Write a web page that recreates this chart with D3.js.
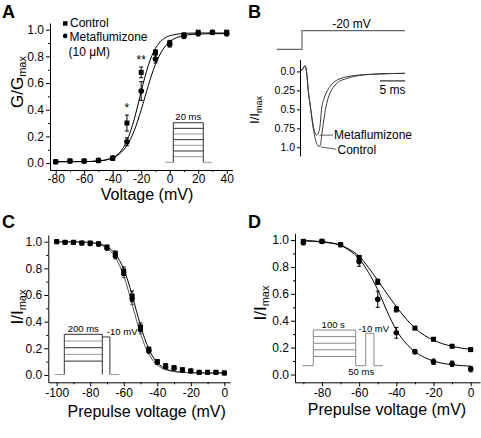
<!DOCTYPE html>
<html><head><meta charset="utf-8">
<script src="https://cdn.jsdelivr.net/npm/d3@7/dist/d3.min.js"></script>
<style>
html,body{margin:0;padding:0;background:#fff;}
svg{display:block;}
</style></head>
<body>
<svg id="fig" width="481" height="438" xmlns="http://www.w3.org/2000/svg"></svg>
<script>
// ================= DATA =================
// Panel A : G/Gmax vs voltage
const aVoltage   = [-80,-70,-60,-50,-40,-30,-20,-10,0,10,20,30,40];
const aControl   = [0.01,0.015,0.015,0.02,0.035,0.30,0.68,0.83,0.90,0.96,0.98,0.98,0.98];
const aControlErr= [0.005,0.005,0.005,0.005,0.01,0.06,0.04,0.02,0.02,0.015,0.015,0.012,0.015];
const aMetaf     = [0.01,0.015,0.015,0.02,0.04,0.16,0.54,0.78,0.89,0.95,0.97,0.98,0.97];
const aMetafErr  = [0.005,0.005,0.005,0.005,0.01,0.03,0.07,0.03,0.02,0.015,0.015,0.012,0.015];
const aFitVoltage= [-80,-60,-50,-45,-40,-37.5,-35,-32.5,-30,-27.5,-25,-22.5,-20,-17.5,-15,-12.5,-10,-7.5,-5,-2.5,0,5,10,15,20,30,40];
const aFitControl= [0.01,0.011,0.015,0.022,0.040,0.056,0.080,0.116,0.167,0.237,0.324,0.428,0.536,0.641,0.732,0.805,0.860,0.899,0.925,0.943,0.954,0.966,0.972,0.974,0.975,0.975,0.975];
const aFitMetaf  = [0.01,0.011,0.016,0.024,0.039,0.052,0.071,0.097,0.132,0.180,0.240,0.314,0.399,0.490,0.581,0.666,0.740,0.800,0.848,0.883,0.909,0.941,0.956,0.964,0.967,0.970,0.970];
const aXTicks    = [-80,-60,-40,-20,0,20,40];
const aXMinor    = [-70,-50,-30,-10,10,30];
const aYTicks    = [0,0.2,0.4,0.6,0.8,1.0];
const aYMinor    = [0.1,0.3,0.5,0.7,0.9];
const aSigVoltage= [-30,-20];
const aSigLabel  = ["*","**"];
const aLegend    = ["Control","Metaflumizone","(10 \u03BCM)"];

// Panel B : current traces at -20 mV (normalised, inward positive)
const bTimeControl = [-0.4,0,0.3,0.6,0.9,1.25,1.75,2.25,2.7,3.0,3.4,3.7,4.1,4.7,5.2,5.9,6.6,7.5,8.9,10.5,12.5,15,18,20.6];
const bControl     = [-0.01,-0.02,-0.05,-0.075,0,0.25,0.5,0.75,0.9,0.96,0.99,0.96,0.76,0.5,0.36,0.25,0.18,0.13,0.095,0.065,0.045,0.035,0.028,0.025];
const bTimeMetaf   = [-0.4,0,0.3,0.6,0.9,1.25,1.75,2.25,2.6,2.95,3.3,3.6,3.9,4.4,5.1,5.8,6.6,7.6,9,11,13,16,18,20.6];
const bMetaf       = [-0.01,-0.02,-0.05,-0.075,0,0.25,0.5,0.72,0.81,0.84,0.81,0.72,0.5,0.36,0.25,0.18,0.13,0.095,0.07,0.05,0.04,0.03,0.027,0.025];
const bYTicks      = [0,0.25,0.5,0.75,1.0];
const bYLabels     = ["0.0","0.25","0.5","0.75","1.0"];
const bStepLabel   = "-20 mV";
const bScaleBarMs  = 5;

// Panel C : steady-state inactivation (200 ms prepulse)
const cVoltage   = [-100,-95,-90,-85,-80,-75,-70,-65,-60,-55,-50,-45,-40,-35,-30,-25,-20,-15,-10,-5,0];
const cControl   = [1.0,0.995,0.995,0.99,0.99,0.985,0.96,0.91,0.78,0.59,0.36,0.19,0.10,0.07,0.055,0.04,0.03,0.02,0.02,0.02,0.015];
const cMetaf     = [1.0,0.995,0.995,0.99,0.985,0.98,0.95,0.89,0.76,0.57,0.34,0.18,0.095,0.06,0.05,0.035,0.03,0.02,0.02,0.02,0.015];
const cErr       = [0,0,0,0,0,0.006,0.012,0.02,0.03,0.04,0.03,0.02,0.015,0.01,0.01,0.006,0.005,0,0,0,0];
const cFitVoltage= [-100,-90,-80,-75,-70,-67.5,-65,-62.5,-60,-57.5,-55,-52.5,-50,-47.5,-45,-42.5,-40,-37.5,-35,-30,-25,-20,-10,0];
const cFitControl= [1.0,0.999,0.994,0.985,0.962,0.940,0.907,0.859,0.792,0.705,0.599,0.484,0.372,0.273,0.193,0.134,0.093,0.065,0.047,0.028,0.020,0.017,0.015,0.015];
const cFitMetaf  = [1.0,0.999,0.992,0.980,0.950,0.922,0.881,0.822,0.742,0.643,0.531,0.416,0.310,0.222,0.156,0.108,0.075,0.053,0.039,0.025,0.019,0.017,0.015,0.015];
const cXTicks    = [-100,-80,-60,-40,-20,0];
const cXMinor    = [-90,-70,-50,-30,-10];

// Panel D : slow inactivation (100 s prepulse)
const dVoltage   = [-90,-80,-70,-60,-50,-40,-30,-20,-10,0];
const dControl   = [0.99,0.99,0.965,0.87,0.69,0.485,0.345,0.262,0.21,0.185];
const dControlErr= [0.01,0.005,0.01,0.015,0.02,0.02,0.01,0.01,0.01,0.01];
const dMetaf     = [0.98,0.99,0.965,0.84,0.56,0.31,0.17,0.095,0.08,0.04];
const dMetafErr  = [0.01,0.005,0.01,0.035,0.06,0.04,0.015,0.02,0.02,0.02];
const dFitVoltage= [-90,-80,-70,-65,-60,-55,-50,-45,-40,-35,-30,-25,-20,-15,-10,-5,0];
const dFitControl= [0.995,0.985,0.962,0.928,0.88,0.795,0.70,0.60,0.505,0.418,0.345,0.292,0.255,0.228,0.21,0.196,0.187];
const dFitMetaf  = [0.995,0.988,0.96,0.92,0.86,0.76,0.63,0.47,0.33,0.235,0.17,0.128,0.10,0.083,0.073,0.066,0.062];
const dXTicks    = [-80,-60,-40,-20,0];
const dXMinor    = [-90,-70,-50,-30,-10];
const cdYTicks   = [0,0.2,0.4,0.6,0.8,1.0];
const cdYMinor   = [0.1,0.3,0.5,0.7,0.9];

// ================= DRAWING =================
const FONT = "'Liberation Sans', Arial, Helvetica, sans-serif";
const svg = d3.select("#fig").attr("font-family", FONT);
const fmtInt = d => String(d);
const fmt1 = d => d.toFixed(1);

function styleAxis(g, fs) {
  g.attr("font-family", null).attr("font-size", null);
  g.select(".domain").attr("stroke", "#000").attr("stroke-width", 1);
  g.selectAll(".tick line").attr("stroke", "#000").attr("stroke-width", 1);
  g.selectAll(".tick text").attr("fill", "#000").attr("font-size", fs).attr("font-family", FONT);
}
function xAxis(x, y0, major, minor, fs, pad) {
  if (minor) {
    const m = svg.append("g").attr("transform", `translate(0,${y0})`)
      .call(d3.axisBottom(x).tickValues(minor).tickSize(2).tickSizeOuter(0).tickFormat(""));
    m.select(".domain").remove();
    m.selectAll(".tick line").attr("stroke", "#000");
  }
  const g = svg.append("g").attr("transform", `translate(0,${y0})`)
    .call(d3.axisBottom(x).tickValues(major).tickSize(4).tickSizeOuter(0).tickPadding(pad).tickFormat(fmtInt));
  styleAxis(g, fs);
}
function yAxis(y, x0, major, minor, fs, pad, fmt) {
  if (minor) {
    const m = svg.append("g").attr("transform", `translate(${x0},0)`)
      .call(d3.axisLeft(y).tickValues(minor).tickSize(2).tickSizeOuter(0).tickFormat(""));
    m.select(".domain").remove();
    m.selectAll(".tick line").attr("stroke", "#000");
  }
  const g = svg.append("g").attr("transform", `translate(${x0},0)`)
    .call(d3.axisLeft(y).tickValues(major).tickSize(4).tickSizeOuter(0).tickPadding(pad).tickFormat(fmt));
  styleAxis(g, fs);
}
function yTitle(cx, cy, main, sub, fs, sfs) {
  const t = svg.append("text").attr("transform", `translate(${cx},${cy}) rotate(-90)`)
    .attr("text-anchor", "middle").attr("font-size", fs).attr("fill", "#000");
  t.append("tspan").text(main);
  t.append("tspan").attr("font-size", sfs).attr("dy", 3).text(sub);
}
function xTitle(cx, by, label) {
  svg.append("text").attr("x", cx).attr("y", by).attr("text-anchor", "middle")
    .attr("font-size", 16).attr("fill", "#000").text(label);
}
function panelLetter(x, y, s) {
  svg.append("text").attr("x", x).attr("y", y).attr("font-size", 18).attr("font-weight", "bold")
    .attr("fill", "#000").text(s);
}
function fitLine(x, y, xs, ys, color) {
  svg.append("path").datum(xs.map((v, i) => [v, ys[i]]))
    .attr("fill", "none").attr("stroke", color).attr("stroke-width", 1)
    .attr("d", d3.line().x(d => x(d[0])).y(d => y(d[1])).curve(d3.curveMonotoneX));
}
function errBars(x, y, xs, ys, es, color) {
  const g = svg.append("g").attr("stroke", color).attr("stroke-width", 1);
  xs.forEach((v, i) => {
    if (!es[i] || es[i] < 0.008) return;
    const cx = x(v), y1 = y(ys[i] - es[i]), y2 = y(ys[i] + es[i]);
    g.append("line").attr("x1", cx).attr("x2", cx).attr("y1", y1).attr("y2", y2);
    g.append("line").attr("x1", cx - 2).attr("x2", cx + 2).attr("y1", y1).attr("y2", y1);
    g.append("line").attr("x1", cx - 2).attr("x2", cx + 2).attr("y1", y2).attr("y2", y2);
  });
}
function squares(x, y, xs, ys, s) {
  svg.append("g").selectAll("rect").data(xs.map((v, i) => [v, ys[i]])).join("rect")
    .attr("x", d => x(d[0]) - s / 2).attr("y", d => y(d[1]) - s / 2)
    .attr("width", s).attr("height", s).attr("fill", "#000");
}
function circles(x, y, xs, ys, r) {
  svg.append("g").selectAll("circle").data(xs.map((v, i) => [v, ys[i]])).join("circle")
    .attr("cx", d => x(d[0])).attr("cy", d => y(d[1])).attr("r", r).attr("fill", "#000");
}
function smallText(x, y, s, anchor) {
  svg.append("text").attr("x", x).attr("y", y).attr("font-size", 9.5)
    .attr("text-anchor", anchor || "start").attr("fill", "#000").text(s);
}
function seg(x1, y1, x2, y2, color, w) {
  svg.append("line").attr("x1", x1).attr("y1", y1).attr("x2", x2).attr("y2", y2)
    .attr("stroke", color).attr("stroke-width", w || 1);
}

// ---------- Panel A ----------
const xA = d3.scaleLinear().domain([-84, 44]).range([50, 232.4]);
const yA = d3.scaleLinear().domain([-0.052, 1.05]).range([170, 23]);
panelLetter(2, 18, "A");
// inset protocol (local scales)
{
  const pt = d3.scaleLinear().domain([0, 20]).range([173.3, 203.3]);
  const pl = d3.scaleLinear().domain([0, 7]).range([162.3, 122.7]);
  const dark = "#333", grey = "#999";
  seg(pt(-5.5), pl(0), pt(0), pl(0), grey);
  seg(pt(20), pl(0), pt(26), pl(0), grey);
  [1, 2, 3, 4, 5, 6].forEach(l => seg(pt(0), pl(l), pt(20), pl(l), l % 2 ? grey : dark));
  seg(pt(0), pl(7), pt(20), pl(7), dark);
  seg(pt(0), pl(0), pt(0), pl(7), dark);
  seg(pt(20), pl(0), pt(20), pl(7), dark);
  smallText(pt(10), pl(7) - 2.5, "20 ms", "middle");
}
fitLine(xA, yA, aFitVoltage, aFitControl, "#000");
fitLine(xA, yA, aFitVoltage, aFitMetaf, "#000");
errBars(xA, yA, aVoltage, aControl, aControlErr, "#000");
errBars(xA, yA, aVoltage, aMetaf, aMetafErr, "#000");
squares(xA, yA, aVoltage, aControl, 5);
circles(xA, yA, aVoltage, aMetaf, 2.8);
aSigVoltage.forEach((v, k) => {
  const i = aVoltage.indexOf(v);
  svg.append("text").attr("x", xA(v)).attr("y", yA(aControl[i] + aControlErr[i]) - 3)
    .attr("text-anchor", "middle").attr("font-size", 12).attr("fill", "#000").text(aSigLabel[k]);
});
xAxis(xA, 170, aXTicks, aXMinor, 12, 0);
yAxis(yA, 50, aYTicks, aYMinor, 12, 2, fmt1);
xTitle(147, 200, "Voltage (mV)");
yTitle(23, 82, "G/G", "max", 17, 11);
// legend
svg.append("rect").attr("x", 63).attr("y", 21.2).attr("width", 4.5).attr("height", 4.5).attr("fill", "#000");
svg.append("circle").attr("cx", 65.2).attr("cy", 35.9).attr("r", 2.3).attr("fill", "#000");
svg.append("text").attr("x", 70).attr("y", 27.2).attr("font-size", 12).attr("fill", "#000").text(aLegend[0]);
svg.append("text").attr("x", 69.5).attr("y", 40.8).attr("font-size", 12).attr("fill", "#000").text(aLegend[1]);
svg.append("text").attr("x", 68.5).attr("y", 55.8).attr("font-size", 12).attr("fill", "#000").text(aLegend[2]);

// ---------- Panel B ----------
const xB = d3.scaleLinear().domain([0, 20.6]).range([302, 405]);
const yB = d3.scaleLinear().domain([-0.16, 1.115]).range([59.3, 156]);
panelLetter(248, 18, "B");
{
  const vB = d3.scaleLinear().domain([-80, -20]).range([49.3, 30.7]);
  svg.append("path").datum([[-5, -80], [0, -80], [0, -20], [20.6, -20]])
    .attr("fill", "none").attr("stroke", "#666").attr("stroke-width", 1.2)
    .attr("d", d3.line().x(d => xB(d[0])).y(d => vB(d[1])));
  svg.append("text").attr("x", xB(9.9)).attr("y", vB(-20) - 2.5).attr("text-anchor", "middle")
    .attr("font-size", 12).attr("fill", "#000").text(bStepLabel);
}
const traceLine = d3.line().x(d => xB(d[0])).y(d => yB(d[1])).curve(d3.curveMonotoneX);
svg.append("path").datum(bTimeControl.map((t, i) => [t, bControl[i]]))
  .attr("fill", "none").attr("stroke", "#3a3a3a").attr("stroke-width", 1).attr("d", traceLine);
svg.append("path").datum(bTimeMetaf.map((t, i) => [t, bMetaf[i]]))
  .attr("fill", "none").attr("stroke", "#3a3a3a").attr("stroke-width", 1).attr("d", traceLine);
{
  const g = svg.append("g").attr("transform", `translate(${xB(-0.4)},0)`)
    .call(d3.axisLeft(yB).tickValues(bYTicks).tickSize(3).tickSizeOuter(0).tickPadding(2)
      .tickFormat((d, i) => bYLabels[i]));
  styleAxis(g, 10.5);
}
// scale bar
seg(xB(20.6 - bScaleBarMs), yB(0.125), xB(20.6), yB(0.125), "#000", 1);
svg.append("text").attr("x", xB(20.6 - bScaleBarMs / 2)).attr("y", yB(0.125) + 13)
  .attr("text-anchor", "middle").attr("font-size", 12).attr("fill", "#000").text(bScaleBarMs + " ms");
// trace labels
seg(xB(3.5), yB(0.84), xB(6.2), yB(0.84), "#333", 0.8);
svg.append("text").attr("x", xB(6.4)).attr("y", yB(0.84) + 4.2).attr("font-size", 12).attr("fill", "#000").text("Metaflumizone");
seg(xB(3.7), yB(0.995), xB(6.8), yB(1.025), "#333", 0.8);
svg.append("text").attr("x", xB(7.1)).attr("y", yB(1.025) + 4.5).attr("font-size", 12).attr("fill", "#000").text("Control");
yTitle(259, 110, "I/I", "max", 13, 9);

// ---------- Panel C ----------
const xC = d3.scaleLinear().domain([-105, 3.5]).range([48.3, 230.2]);
const yC = d3.scaleLinear().domain([-0.055, 1.05]).range([382.3, 235]);
panelLetter(2, 228, "C");
{
  const pt = d3.scaleLinear().domain([0, 200]).range([64.3, 102.3]);
  const pl = d3.scaleLinear().domain([0, 6]).range([374.5, 334.3]);
  const dark = "#333", grey = "#999";
  seg(pt(-50), pl(0), pt(0), pl(0), grey);
  [2, 3, 4, 5].forEach(l => seg(pt(0), pl(l), pt(200), pl(l), l % 2 ? grey : dark));
  seg(pt(0), pl(6), pt(200), pl(6), dark);
  seg(pt(0), pl(0), pt(0), pl(6), dark);
  seg(pt(200), pl(0), pt(200), pl(6), dark);
  seg(pt(200), pl(5.6), pt(240), pl(5.6), dark);
  seg(pt(240), pl(5.6), pt(240), pl(0), dark);
  seg(pt(240), pl(0), pt(290), pl(0), grey);
  smallText(pt(100), pl(6) - 2.5, "200 ms", "middle");
  smallText(pt(224), pl(5.6) - 1.5, "-10 mV", "start");
}
fitLine(xC, yC, cFitVoltage, cFitControl, "#000");
fitLine(xC, yC, cFitVoltage, cFitMetaf, "#555");
errBars(xC, yC, cVoltage, cControl, cErr, "#000");
errBars(xC, yC, cVoltage, cMetaf, cErr, "#555");
squares(xC, yC, cVoltage, cControl, 5);
circles(xC, yC, cVoltage, cMetaf, 2.6);
xAxis(xC, 382.3, cXTicks, cXMinor, 12, 2);
yAxis(yC, 48.3, cdYTicks, cdYMinor, 12, 2, fmt1);
xTitle(146.7, 417, "Prepulse voltage (mV)");
yTitle(23, 307, "I/I", "max", 17, 11);

// ---------- Panel D ----------
const xD = d3.scaleLinear().domain([-94.5, 5]).range([295, 480]);
const yD = d3.scaleLinear().domain([-0.058, 1.05]).range([382.3, 233.3]);
panelLetter(248, 228, "D");
{
  const pt = d3.scaleLinear().domain([0, 100]).range([313.3, 355.7]);
  const pl = d3.scaleLinear().domain([0, 5.4]).range([365.7, 330]);
  const grey = "#888";
  seg(pt(-26), pl(0), pt(0), pl(0), grey);
  [1.4, 2.4, 3.4, 4.4, 5.4].forEach(l => seg(pt(0), pl(l), pt(100), pl(l), grey));
  seg(pt(0), pl(0), pt(0), pl(5.4), grey);
  seg(pt(100), pl(0), pt(100), pl(5.4), grey);
  seg(pt(100), pl(0), pt(123.6), pl(0), grey);
  seg(pt(123.6), pl(0), pt(123.6), pl(4.9), grey);
  seg(pt(123.6), pl(4.9), pt(143.2), pl(4.9), grey);
  seg(pt(143.2), pl(4.9), pt(143.2), pl(0), grey);
  seg(pt(143.2), pl(0), pt(163.7), pl(0), grey);
  smallText(pt(47), pl(5.4) - 2.5, "100 s", "middle");
  smallText(pt(106.5), pl(4.9) - 1.5, "-10 mV", "start");
  smallText(pt(113), pl(0) + 9.5, "50 ms", "middle");
}
fitLine(xD, yD, dFitVoltage, dFitControl, "#000");
fitLine(xD, yD, dFitVoltage, dFitMetaf, "#000");
errBars(xD, yD, dVoltage, dControl, dControlErr, "#000");
errBars(xD, yD, dVoltage, dMetaf, dMetafErr, "#000");
squares(xD, yD, dVoltage, dControl, 5);
circles(xD, yD, dVoltage, dMetaf, 2.8);
xAxis(xD, 382.3, dXTicks, dXMinor, 12, 2);
yAxis(yD, 295, cdYTicks, cdYMinor, 12, 2, fmt1);
xTitle(387, 415, "Prepulse voltage (mV)");
yTitle(266, 303, "I/I", "max", 17, 11);
</script>
</body></html>
